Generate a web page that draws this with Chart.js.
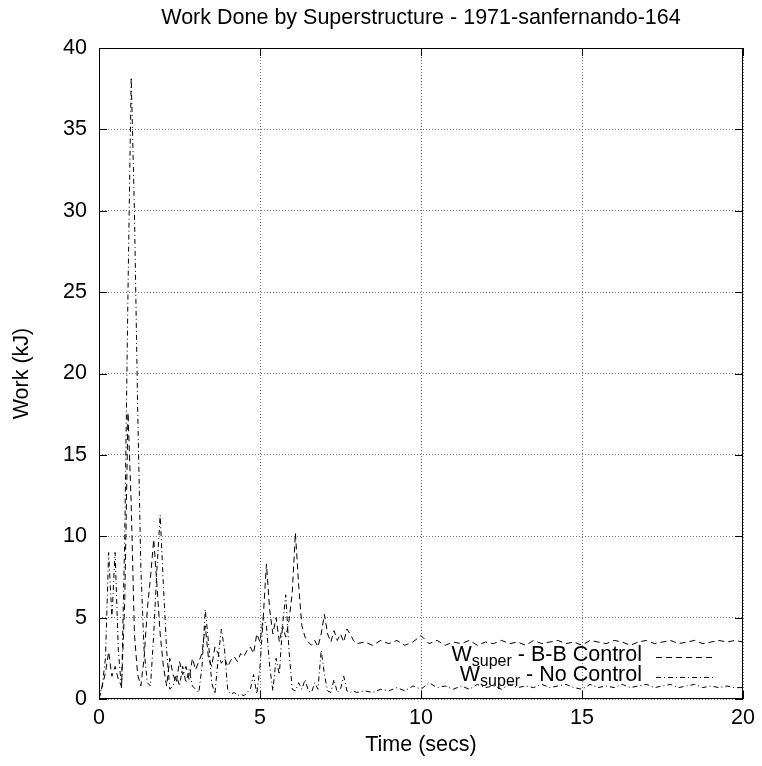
<!DOCTYPE html>
<html>
<head>
  <meta charset="utf-8">
  <title>Work Done by Superstructure - 1971-sanfernando-164</title>
  <script src="https://cdn.jsdelivr.net/npm/chart.js"></script>
  <style>
    body { margin: 0; background: #fff; }
    #wrap { width: 762px; height: 766px; }
  </style>
</head>
<body>
  <div id="wrap"><canvas id="workChart" width="762" height="766"></canvas></div>

  <script>
    // time samples (secs)
    const times = [
      0.0, 0.1, 0.2, 0.3, 0.4, 0.5, 0.6, 0.7, 0.8, 0.9,
      1.0, 1.1, 1.2, 1.3, 1.4, 1.5, 1.6, 1.7, 1.8, 1.9,
      2.0, 2.1, 2.2, 2.3, 2.4, 2.5, 2.6, 2.7, 2.8, 2.9,
      3.0, 3.1, 3.2, 3.3, 3.4, 3.5, 3.6, 3.7, 3.8, 3.9,
      4.0, 4.1, 4.2, 4.3, 4.4, 4.5, 4.6, 4.7, 4.8, 4.9,
      5.0, 5.1, 5.2, 5.3, 5.4, 5.5, 5.6, 5.7, 5.8, 5.9,
      6.0, 6.1, 6.2, 6.3, 6.4, 6.5, 6.6, 6.7, 6.8, 6.9,
      7.0, 7.1, 7.2, 7.3, 7.4, 7.5, 7.6, 7.7, 7.8, 7.9,
      8.0, 8.25, 8.5, 8.75, 9.0, 9.25, 9.5, 9.75, 10.0, 10.25,
      10.5, 10.75, 11.0, 11.25, 11.5, 11.75, 12.0, 12.25, 12.5, 12.75,
      13.0, 13.25, 13.5, 13.75, 14.0, 14.25, 14.5, 14.75, 15.0, 15.25,
      15.5, 15.75, 16.0, 16.25, 16.5, 16.75, 17.0, 17.25, 17.5, 17.75,
      18.0, 18.25, 18.5, 18.75, 19.0, 19.25, 19.5, 19.75, 20.0
    ];

    // W_super with B-B control (kJ)
    const workBB = [
      0.0, 0.8, 1.6, 2.9, 1.4, 2.0, 1.2, 0.8, 6.0, 17.6,
      12.0, 4.0, 1.5, 0.8, 2.5, 5.5, 7.5, 9.8, 7.0, 4.0,
      2.0, 0.8, 2.5, 1.5, 1.0, 2.3, 1.5, 2.0, 1.2, 2.5,
      1.8, 2.3, 2.8, 4.5, 2.5, 2.0, 3.2, 2.8, 2.2, 2.5,
      2.0, 2.4, 2.6, 2.3, 2.8, 2.6, 3.0, 3.2, 2.8, 4.0,
      3.5, 5.0, 8.3, 5.5, 4.0, 5.0, 3.5, 4.5, 3.8, 4.8,
      6.5, 10.2, 7.0, 4.5, 3.8, 3.5, 3.3, 3.6, 3.2, 4.0,
      5.2, 4.0, 3.5, 4.2, 3.6, 4.0, 3.5, 4.3, 4.0, 3.6,
      3.4, 3.5, 3.3, 3.6, 3.4, 3.6, 3.3, 3.5, 3.9, 3.4,
      3.6, 3.3, 3.5, 3.4, 3.6, 3.3, 3.5, 3.4, 3.6, 3.4,
      3.5, 3.3, 3.6, 3.4, 3.5, 3.6, 3.4, 3.5, 3.3, 3.6,
      3.5, 3.4, 3.6, 3.5, 3.3, 3.5, 3.6, 3.4, 3.5, 3.6,
      3.4, 3.5, 3.6, 3.4, 3.5, 3.6, 3.5, 3.6, 3.5
    ];

    // W_super with no control (kJ)
    const workNone = [
      0.0, 0.8, 2.5, 9.0, 5.0, 9.0, 3.0, 0.6, 10.0, 25.0,
      38.2, 30.0, 18.0, 8.0, 3.0, 1.0, 0.8, 4.0, 8.0, 11.3,
      7.0, 3.0, 0.6, 0.8, 1.5, 0.8, 2.0, 1.0, 1.8, 0.8,
      0.6, 0.4, 2.0, 5.5, 3.5, 1.0, 0.3, 2.5, 4.3, 3.0,
      0.5, 0.3, 0.4, 0.2, 0.3, 0.2, 0.4, 0.6, 1.5, 0.3,
      2.0, 5.0, 4.5, 2.0, 0.5, 2.5, 1.5, 4.5, 6.4, 3.0,
      0.6, 0.5, 1.0, 0.6, 1.2, 0.5, 0.4, 1.0, 0.6, 3.0,
      1.5, 0.5, 0.4, 1.2, 0.4, 0.6, 1.4, 0.5, 0.4, 0.5,
      0.4, 0.5, 0.4, 0.6, 0.5, 0.7, 0.5, 0.8, 0.6, 1.0,
      0.7, 0.8, 0.6, 0.8, 0.6, 0.9, 0.7, 0.8, 0.6, 0.9,
      0.7, 0.8, 0.7, 0.9, 0.7, 0.8, 0.9, 0.7, 0.6, 0.9,
      0.7, 0.8, 0.7, 0.9, 0.7, 0.8, 0.9, 0.7, 0.8, 0.9,
      0.7, 0.8, 0.9, 0.7, 0.8, 0.7, 0.8, 0.7, 0.7
    ];

    const xTicks = [0, 5, 10, 15, 20];
    const yTicks = [0, 5, 10, 15, 20, 25, 30, 35, 40];
    const chartTitle = 'Work Done by Superstructure - 1971-sanfernando-164';

    const FONT = 'Liberation Sans, Arial, sans-serif';
    const FS = 21.5;
    const dashBB = [6, 4];
    const dashNone = [5, 3, 1, 3];

    const toPoints = (ys) => ys.map((y, i) => ({ x: times[i], y: y }));

    // frame + inward tick marks, like gnuplot's border; title centred on the plot
    const framePlugin = {
      id: 'frame',
      afterDatasetsDraw(chart) {
        const { ctx, chartArea: a, scales } = chart;
        ctx.save();
        ctx.strokeStyle = '#000';
        ctx.lineWidth = 1;
        ctx.setLineDash([]);
        ctx.strokeRect(a.left + 0.5, a.top + 0.5, a.right - a.left - 1, a.bottom - a.top - 1);
        ctx.beginPath();
        xTicks.forEach(v => {
          const px = Math.round(scales.x.getPixelForValue(v)) + 0.5;
          ctx.moveTo(px, a.bottom); ctx.lineTo(px, a.bottom - 8);
          ctx.moveTo(px, a.top); ctx.lineTo(px, a.top + 8);
        });
        yTicks.forEach(v => {
          const py = Math.round(scales.y.getPixelForValue(v)) + 0.5;
          ctx.moveTo(a.left, py); ctx.lineTo(a.left + 8, py);
          ctx.moveTo(a.right, py); ctx.lineTo(a.right - 8, py);
        });
        ctx.stroke();

        ctx.fillStyle = '#000';
        ctx.font = FS + 'px ' + FONT;
        ctx.textAlign = 'center';
        ctx.textBaseline = 'middle';
        ctx.fillText(chartTitle, (a.left + a.right) / 2, 18);
        ctx.restore();
      }
    };

    // key in the lower right with subscripted labels
    const keyPlugin = {
      id: 'key',
      afterDatasetsDraw(chart) {
        const { ctx, chartArea: a } = chart;
        const rows = [
          { rest: ' - B-B Control', dash: dashBB, y: a.bottom - 44 },
          { rest: ' - No Control', dash: dashNone, y: a.bottom - 24 }
        ];
        const textRight = a.right - 101;
        const big = FS + 'px ' + FONT;
        const small = '16px ' + FONT;
        ctx.save();
        ctx.fillStyle = '#000';
        ctx.textBaseline = 'middle';
        rows.forEach(r => {
          ctx.font = big;
          const wW = ctx.measureText('W').width;
          const wRest = ctx.measureText(r.rest).width;
          ctx.font = small;
          const wSub = ctx.measureText('super').width;
          let x = textRight - wRest - wSub - wW;
          ctx.font = big;
          ctx.fillText('W', x, r.y);
          x += wW;
          ctx.font = small;
          ctx.fillText('super', x, r.y + 7);
          x += wSub;
          ctx.font = big;
          ctx.fillText(r.rest, x, r.y);
          ctx.beginPath();
          ctx.strokeStyle = '#000';
          ctx.lineWidth = 1;
          ctx.setLineDash(r.dash);
          ctx.moveTo(textRight + 14, r.y + 2.5);
          ctx.lineTo(textRight + 73, r.y + 2.5);
          ctx.stroke();
        });
        ctx.restore();
      }
    };

    const ctx = document.getElementById('workChart').getContext('2d');
    const workChart = new Chart(ctx, {
      type: 'line',
      data: {
        datasets: [
          {
            label: 'W_super - B-B Control',
            data: toPoints(workBB),
            borderColor: '#000',
            borderWidth: 1,
            borderDash: dashBB,
            pointRadius: 0,
            fill: false,
            tension: 0
          },
          {
            label: 'W_super - No Control',
            data: toPoints(workNone),
            borderColor: '#000',
            borderWidth: 1,
            borderDash: dashNone,
            pointRadius: 0,
            fill: false,
            tension: 0
          }
        ]
      },
      options: {
        responsive: false,
        animation: false,
        layout: { padding: { left: 0, right: 19, top: 48, bottom: 0 } },
        plugins: {
          legend: { display: false },
          tooltip: { enabled: false },
          title: { display: false }
        },
        scales: {
          x: {
            type: 'linear',
            min: 0,
            max: 20,
            afterFit: s => { s.height = 67; },
            afterBuildTicks: s => { s.ticks = xTicks.map(v => ({ value: v })); },
            ticks: { color: '#000', font: { family: FONT, size: FS }, padding: 6, maxRotation: 0 },
            grid: { color: '#777', lineWidth: 1, drawTicks: false },
            // in v4 border.dash sets the dash of the grid lines
            border: { display: false, dash: [1, 2] },
            title: {
              display: true,
              text: 'Time (secs)',
              color: '#000',
              font: { family: FONT, size: FS },
              padding: { top: 0, bottom: 8 }
            }
          },
          y: {
            type: 'linear',
            min: 0,
            max: 40,
            afterFit: s => { s.width = 99; },
            afterBuildTicks: s => { s.ticks = yTicks.map(v => ({ value: v })); },
            ticks: { color: '#000', font: { family: FONT, size: FS }, padding: 12 },
            grid: { color: '#777', lineWidth: 1, drawTicks: false },
            border: { display: false, dash: [1, 2] },
            title: {
              display: true,
              text: 'Work (kJ)',
              color: '#000',
              font: { family: FONT, size: FS },
              padding: { top: 9, bottom: 0 }
            }
          }
        }
      },
      plugins: [framePlugin, keyPlugin]
    });
  </script>
</body>
</html>
